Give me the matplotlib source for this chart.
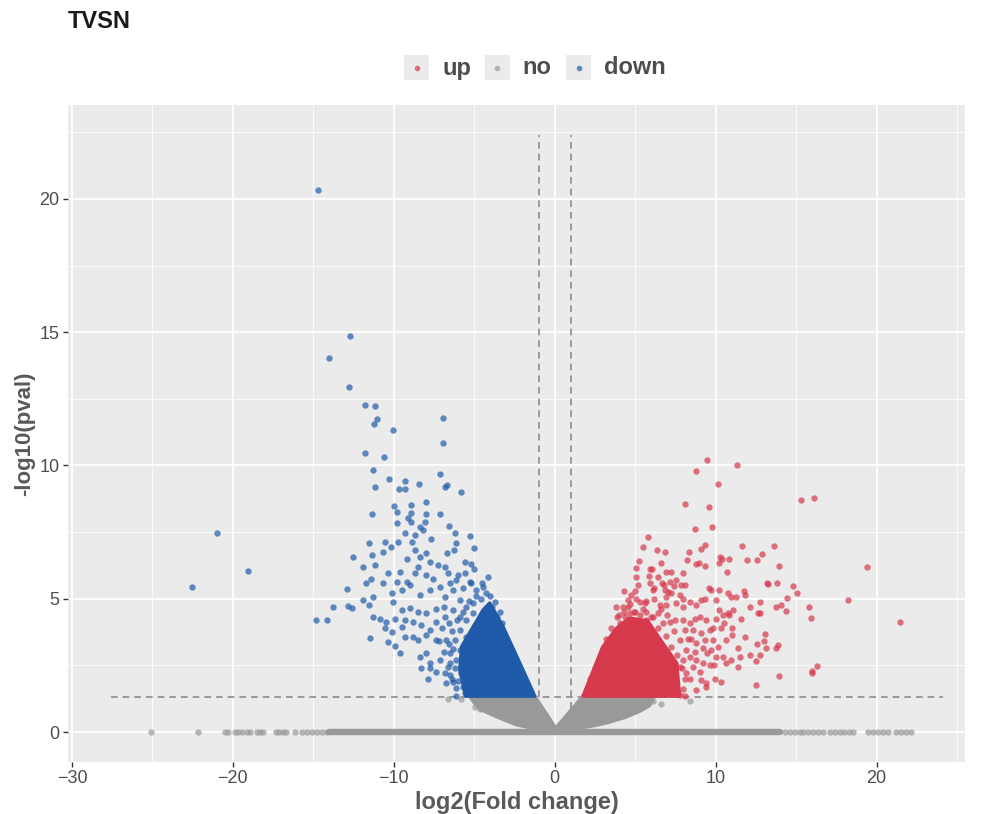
import matplotlib.pyplot as plt
from matplotlib.patches import Rectangle, Polygon
from matplotlib.lines import Line2D

plt.rcParams['font.family'] = ['Liberation Sans', 'DejaVu Sans']

# "down" genes that can be told apart in the picture
down_x = [-14.70, -12.75, -14.04, -12.81, -11.76, -11.18, -11.06, -11.24, -10.02, -6.96, -6.96, -11.78, -10.60,
          -11.30, -10.31, -11.16, -9.67, -9.32, -9.28, -8.41, -7.16, -6.83, -6.67, -5.82, -8.01, -9.96, -9.81,
          -8.94, -11.37, -8.96, -9.09, -8.94, -8.03, -7.14, -9.83, -8.05, -8.36, -8.16, -6.60, -6.21, -5.28,
          -9.30, -8.67, -7.66,
          -21.00, -19.09, -22.53, -14.83, -14.16,
          -11.55, -10.56, -9.73, -8.90, -6.15, -12.53, -11.35, -10.19, -10.66, -9.17, -8.39, -7.97, -8.70,
          -6.69, -6.27, -5.03, -11.90, -11.20, -9.63, -8.49, -7.76, -7.25, -6.83, -5.59, -5.18, -5.59, -10.35,
          -11.70, -11.39, -10.66, -9.83, -9.21, -8.70, -7.97, -7.56, -6.63, -6.11, -5.28, -4.55, -4.14, -12.94,
          -11.90, -11.32, -13.77, -12.84, -12.57, -11.53, -10.14, -9.52, -9.00, -8.39, -7.76, -7.14, -6.83,
          -6.31, -5.69, -4.87, -4.45, -3.73, -3.42, -10.04, -9.52, -9.00, -8.49, -7.97, -11.28, -10.87, -10.46,
          -9.94, -9.32, -8.80, -8.28, -7.35, -7.76, -6.83, -6.31, -10.56, -9.52, -10.14, -11.46, -10.35, -9.94,
          -9.32, -8.80, -8.49, -7.97, -7.35, -6.73, -9.63, -8.39, -7.97, -7.76, -7.14, -6.52, -8.28, -7.76,
          -7.35, -6.63, -7.87, -6.52, -6.73, -6.31, -6.11, -5.69, -6.11, -5.59,
          -5.90, -5.49, -5.07, -5.90, -5.49, -5.07, -4.76, -5.90, -5.49, -6.21, -5.90, -5.38, -6.11, -5.59,
          -5.07, -5.80, -5.28,
          -6.40, -6.00, -6.20, -6.50, -6.30, -6.60, -6.40, -6.60, -6.10, -5.70, -5.30, -4.90, -4.60, -4.30,
          -4.00, -3.90, -3.60, -3.30, -5.20, -6.90, -7.00, -6.90, -6.50, -6.00, -7.20, -7.40, -6.80, -5.00]
down_y = [20.35, 14.87, 14.03, 12.93, 12.27, 12.23, 11.74, 11.57, 11.34, 11.80, 10.83, 10.48, 10.33,
          9.83, 9.48, 9.18, 9.10, 9.12, 9.42, 9.32, 9.67, 9.18, 9.26, 9.02, 8.63, 8.47, 8.24,
          8.52, 8.19, 8.21, 8.02, 7.89, 8.19, 8.19, 7.83, 7.89, 7.70, 7.58, 7.73, 7.48, 7.34,
          7.48, 7.39, 7.25,
          7.47, 6.05, 5.44, 4.21, 4.21,
          7.10, 7.14, 7.14, 7.14, 7.10, 6.58, 6.65, 6.93, 6.76, 6.49, 6.58, 6.70, 6.83,
          6.70, 6.83, 6.89, 6.20, 6.26, 6.01, 6.20, 6.39, 6.26, 6.20, 6.39, 6.30, 5.98, 5.95,
          5.58, 5.73, 5.58, 5.64, 5.64, 5.95, 5.89, 5.76, 5.95, 5.70, 5.64, 5.58, 5.80, 5.35,
          4.95, 5.08, 4.70, 4.74, 4.64, 4.75, 5.20, 5.33, 5.51, 5.14, 5.33, 5.45, 5.08,
          5.33, 5.39, 5.33, 5.45, 4.89, 4.51, 4.89, 4.58, 4.64, 4.51, 4.45, 4.30, 4.26, 4.14,
          4.26, 4.20, 4.14, 4.01, 4.14, 3.83, 4.33, 4.58, 3.89, 3.95, 3.76, 3.54, 3.39, 3.23,
          3.58, 3.58, 3.45, 3.64, 3.45, 3.45, 2.95, 2.83, 2.95, 2.58, 2.70, 2.95, 2.39, 2.39,
          2.26, 2.45, 1.98, 2.14, 1.83, 1.89, 1.64, 1.70, 1.35, 1.45,
          4.95, 4.70, 4.83, 4.33, 4.20, 4.45, 4.08, 3.83, 3.58, 3.45, 3.08, 3.20, 2.70, 2.58,
          2.83, 2.20, 2.08,
          2.00, 1.90, 2.40, 2.60, 3.10, 3.30, 3.80, 4.10, 4.20, 4.50, 4.90, 5.10, 5.00, 5.20,
          5.10, 4.70, 4.30, 4.10, 5.60, 3.00, 3.90, 4.70, 5.60, 5.90, 3.40, 4.60, 2.20, 6.10]

# "up" genes that can be told apart in the picture
up_x = [9.48, 11.30, 8.80, 10.17, 15.28, 16.11, 8.07, 9.57, 19.38, 18.20, 21.47, 14.78, 15.07, 14.45, 15.80,
        15.92, 14.35, 14.08, 13.73, 13.81, 13.25, 13.91, 13.60, 16.31, 15.98, 15.98, 13.93, 13.77, 13.89,
        13.08, 13.00, 12.57, 12.48, 12.48,
        8.74, 9.79, 5.78, 5.51, 6.36, 6.83, 8.34, 9.11, 9.34, 8.76, 8.96, 8.22, 9.36, 10.29, 10.41, 10.23,
        10.83, 11.64, 11.93, 12.55, 12.90, 10.72, 5.24, 5.03, 5.94, 6.07, 5.88, 6.63, 6.94, 7.25, 7.97, 5.03,
        6.15, 6.11, 6.65, 6.79, 7.14, 7.39, 7.52, 7.83, 8.07, 6.83, 7.06, 7.25, 6.94, 7.76, 7.97, 9.59, 9.73,
        10.21, 10.75, 10.95, 11.28, 11.74, 11.84, 10.04, 4.97, 4.55, 5.28, 5.69, 6.52, 6.94, 7.56, 7.97, 8.39,
        9.11, 9.32, 8.80, 11.08, 10.77, 10.19, 10.46, 12.11, 12.63, 12.77, 12.77, 13.20, 11.59, 11.02, 10.35,
        10.52, 10.04, 10.83, 9.83, 9.42, 4.04, 3.99, 4.35, 4.66, 4.97, 5.69, 6.11, 6.42, 6.73, 7.14, 7.45,
        7.97, 8.39, 8.70, 9.01, 8.07, 8.60, 9.11, 9.63, 7.76, 8.28, 8.80, 9.32, 9.83, 8.18, 8.70, 9.21, 9.73,
        10.14, 10.66, 11.02, 11.39, 11.49, 11.80, 12.11, 12.73, 13.15, 11.39, 10.97, 10.66, 10.46, 10.04,
        9.46, 9.21, 8.80, 8.60, 9.01, 9.63, 9.88, 7.97, 7.76, 8.18, 8.39, 9.11, 9.42, 9.94, 10.35, 7.76, 8.07,
        7.45, 7.14, 7.56, 9.42, 8.80, 4.24, 4.55, 4.76, 5.07, 5.59, 5.69,
        3.20, 3.50, 3.90, 4.30, 4.90, 5.30, 6.00, 6.40, 6.90, 7.20, 7.60, 7.90, 8.10, 8.00, 7.40, 6.60,
        5.50, 4.70, 3.80, 2.80, 2.50, 2.20, 8.40, 8.50, 7.00, 5.20, 4.30, 6.20, 5.90, 6.40]
up_y = [10.21, 10.00, 9.78, 9.32, 8.70, 8.78, 8.54, 8.43, 6.20, 4.94, 4.14, 5.48, 5.20, 5.03, 4.70,
        4.27, 4.54, 4.77, 4.69, 5.59, 5.57, 6.24, 6.97, 2.49, 2.30, 2.20, 2.10, 3.14, 3.26,
        3.68, 3.43, 3.31, 2.66, 1.75,
        7.61, 7.68, 7.31, 6.96, 6.83, 6.76, 6.75, 6.85, 7.00, 6.30, 6.33, 6.45, 6.23, 6.58, 6.48, 6.36,
        6.48, 6.98, 6.46, 6.45, 6.68, 5.99, 6.43, 6.16, 6.13, 6.13, 5.85, 6.36, 6.00, 5.99, 5.95, 5.80,
        5.39, 5.33, 5.61, 5.51, 5.63, 5.49, 5.70, 5.50, 5.53, 5.33, 5.26, 5.20, 5.08, 5.14, 5.01, 5.41, 5.33,
        5.33, 5.20, 5.05, 5.05, 5.30, 5.14, 4.95, 5.30, 4.68, 4.89, 4.93, 4.76, 4.76, 4.83, 4.70, 4.89,
        4.95, 5.01, 4.76, 4.58, 4.45, 4.58, 4.39, 4.68, 4.48, 4.48, 4.89, 5.58, 4.23, 3.89, 3.91,
        4.10, 4.23, 4.39, 3.89, 4.20, 4.08, 4.39, 4.33, 4.45, 4.51, 4.20, 4.33, 4.45, 4.08, 4.14, 4.20,
        4.20, 4.08, 4.26, 4.33, 3.83, 3.83, 3.70, 3.83, 3.45, 3.51, 3.33, 3.45, 3.45, 3.08, 3.01, 3.14, 3.08,
        3.20, 3.45, 3.64, 3.14, 2.83, 3.58, 2.89, 2.89, 3.14, 2.45, 2.70, 2.58, 2.83, 2.83,
        2.95, 2.58, 2.70, 2.45, 2.26, 2.51, 2.51, 2.70, 2.45, 2.20, 2.01, 1.95, 1.83, 1.98, 1.89, 1.39, 1.36,
        1.83, 1.58, 1.64, 1.70, 1.58, 4.70, 4.95, 5.14, 5.01, 4.83, 4.51,
        3.50, 3.90, 4.30, 4.50, 4.50, 4.40, 4.30, 3.90, 3.60, 3.20, 2.90, 2.40, 2.00, 1.60, 3.80, 4.60,
        4.60, 4.80, 4.70, 2.80, 2.40, 2.00, 2.80, 3.50, 4.40, 5.50, 5.30, 5.00, 5.60, 5.80]

# "no" genes standing apart (tails of the pval = 1 row, edges of the V)
no_x = [-25.09, -22.16, -20.50, -20.29, -19.88, -19.67, -19.46, -19.15, -18.94, -18.53, -18.32, -18.16,
        -17.33, -17.12, -16.88, -16.73, -16.15, -15.73, -15.42, -15.11, -14.80, -14.49, -14.18,
        14.29, 14.60, 14.91, 15.22, 15.42, 15.73, 16.04, 16.35, 16.66, 17.08, 17.39, 17.70, 18.01, 18.32,
        18.57, 19.46, 19.77, 20.08, 20.39, 20.70, 21.22, 21.53, 21.84, 22.16,
        -6.63, -5.80, -4.97, -4.66, 6.11, 6.60, 8.39]
no_y = [0] * 47 + [1.26, 1.23, 0.95, 0.86, 1.16, 1.05, 1.18]

# outlines of the saturated clouds, where single points overlap too much to read
down_core_x = [-5.53, -5.90, -5.79, -5.07, -4.45, -4.04, -3.21, -2.17, -1.24]
down_core_y = [1.35, 2.33, 3.20, 3.95, 4.58, 4.84, 3.95, 2.59, 1.35]
up_core_x = [1.76, 2.98, 3.85, 4.66, 5.78, 6.71, 7.58, 7.76]
up_core_y = [1.35, 3.19, 3.90, 4.28, 4.17, 3.34, 2.59, 1.35]
no_core_x = [-5.30, -5.00, -4.60, -3.50, -2.40, -1.00, 0.00, 1.00, 2.50, 3.30, 4.40, 5.30, 5.90, 6.20,
             1.76, 0.06, -1.24]
no_core_y = [1.35, 1.10, 0.85, 0.55, 0.28, 0.10, 0.00, 0.10, 0.25, 0.36, 0.56, 0.79, 1.00, 1.35,
             1.35, 0.15, 1.35]
zero_run = [-14.0, 14.0]

fc_cut = 1
p_cut = 1.301

col = {'up': '#D6394C', 'no': '#999999', 'down': '#1F5BA8'}

fig = plt.figure(figsize=(9.81, 8.14), dpi=100)
ax = fig.add_axes([68 / 981, 1 - 762 / 814, 897 / 981, 657 / 814])
ax.set_facecolor('#EBEBEB')
for s in ax.spines.values():
    s.set_visible(False)

xs = no_x + up_x + down_x
ys = no_y + up_y + down_y
ax.plot([min(xs) * 1.1, max(xs) * 1.09], [p_cut, p_cut], ls=(0, (4, 3)), color='#8C8C8C', lw=1.2, zorder=1)
for v in (-fc_cut, fc_cut):
    ax.plot([v, v], [0, max(ys) * 1.1], ls=(0, (4, 3)), color='#8C8C8C', lw=1.2, zorder=1)

ax.plot(zero_run, [0, 0], color=col['no'], lw=4.6, solid_capstyle='round', zorder=2)
ax.add_patch(Polygon(list(zip(no_core_x, no_core_y)), closed=True, fc=col['no'], ec=col['no'], lw=2.5,
                     joinstyle='round', zorder=2))
ax.add_patch(Polygon(list(zip(up_core_x, up_core_y)), closed=True, fc=col['up'], ec=col['up'], lw=2.5,
                     joinstyle='round', zorder=3))
ax.add_patch(Polygon(list(zip(down_core_x, down_core_y)), closed=True, fc=col['down'], ec=col['down'], lw=2.5,
                     joinstyle='round', zorder=3))
ax.scatter(no_x, no_y, s=21, color=col['no'], alpha=0.7, linewidths=0, zorder=2)
ax.scatter(up_x, up_y, s=21, color=col['up'], alpha=0.7, linewidths=0, zorder=3)
ax.scatter(down_x, down_y, s=21, color=col['down'], alpha=0.7, linewidths=0, zorder=3)

ax.set_xlim(-30.25, 25.5)
ax.set_ylim(-1.12, 23.52)
ax.set_xticks([-30, -20, -10, 0, 10, 20])
ax.set_xticks([-25, -15, -5, 5, 15, 25], minor=True)
ax.set_yticks([0, 5, 10, 15, 20])
ax.set_yticks([2.5, 7.5, 12.5, 17.5, 22.5], minor=True)
ax.grid(which='major', color='white', lw=1.3)
ax.grid(which='minor', color='white', lw=0.6)
ax.set_axisbelow(True)
ax.tick_params(which='major', length=3.5, width=1, color='#333333', labelsize=13, labelcolor='#4D4D4D', pad=2.5)
ax.tick_params(which='minor', length=0)

ax.set_xlabel('log2(Fold change)', fontsize=17, fontweight='bold', color='#595959', labelpad=3)
ax.set_ylabel('-log10(pval)', fontsize=16, fontweight='bold', color='#595959', labelpad=3)

fig.text(68 / 981, 1 - 22 / 814, 'TVSN', fontsize=17, fontweight='bold', color='#1A1A1A', va='center')

# legend on top
for lab, kx, tx in [('up', 404, 442), ('no', 485, 522), ('down', 566, 604)]:
    fig.patches.append(Rectangle((kx / 981, 1 - 80 / 814), 25 / 981, 25 / 814, transform=fig.transFigure,
                                 fc='#EBEBEB', ec='none'))
    fig.add_artist(Line2D([(kx + 12.5) / 981], [1 - 68 / 814], marker='o', ms=4, mew=0, color=col[lab],
                          alpha=0.7, transform=fig.transFigure))
    fig.text(tx / 981, 1 - 68 / 814, lab, fontsize=17, fontweight='bold', color='#4D4D4D', va='center')

fig.savefig('out.png', dpi=100)
